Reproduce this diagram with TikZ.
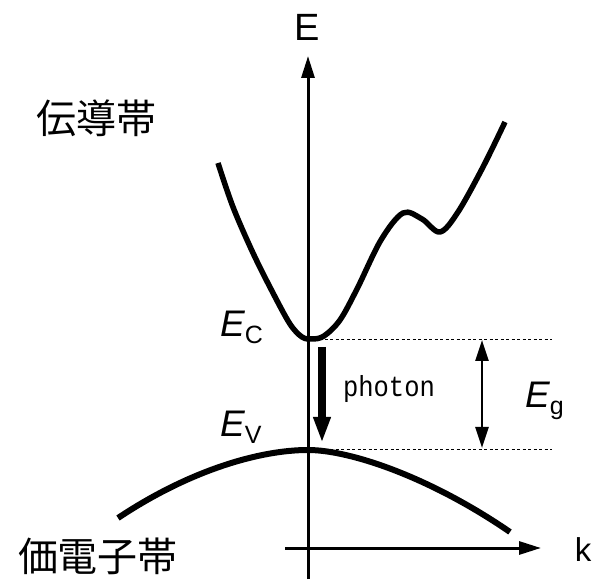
\documentclass[tikz,border=0pt]{standalone}
\usepackage{fontspec}
\setmainfont{Liberation Sans}
\newfontfamily\cjk{Noto Sans CJK JP}
\newfontfamily\photonfont[FakeStretch=0.88]{Liberation Mono}
\usetikzlibrary{arrows.meta}
\tikzset{
  axis/.style={line width=3pt,-{Triangle[length=22pt,width=13pt]}},
  band/.style={line width=5.5pt,line join=round},
  vband/.style={line width=6pt,line join=round},
  level/.style={line width=0.8pt,dash pattern=on 3pt off 2.5pt},
  gap/.style={line width=2.5pt,{Triangle[length=21pt,width=13pt]}-{Triangle[length=21pt,width=13pt]}},
  photonarrow/.style={line width=8pt,-{Triangle[length=26pt,width=16pt]}},
  lbl/.style={inner sep=0pt,font=\fontsize{38}{38}\selectfont},
  cjklbl/.style={inner sep=0pt,font=\cjk\fontsize{40}{40}\selectfont},
  elbl/.style={inner sep=0pt,anchor=base west,font=\fontsize{37}{37}\selectfont\itshape},
}
\newcommand{\subsc}[1]{\raisebox{-7pt}{\upshape\fontsize{25}{25}\selectfont #1}}
\begin{document}
\begin{tikzpicture}[x=1pt,y=-1pt]
\useasboundingbox (0,0) rectangle (598,580);
% axes
\coordinate (vbot) at (308,579);
\coordinate (vtop) at (308,56);
\coordinate (hleft) at (285,548);
\coordinate (hright) at (541,548);
\draw[axis] (vbot) -- (vtop);
\draw[axis] (hleft) -- (hright);
\node[lbl] (E) at (307,27) {E};
\node[lbl,font=\fontsize{33}{33}\selectfont] (k) at (583,550) {k};
% levels
\coordinate (ec) at (308,339);
\coordinate (ecr) at (552,339);
\coordinate (ev) at (308,449);
\coordinate (evr) at (552,449);
\draw[level] (ec) -- (ecr);
\draw[level] (ev) -- (evr);
% conduction band
\draw[band] plot[smooth,tension=0.55] coordinates {(218,163) (233,207) (253,253) (273,293) (290,324) (302,337) (312,339) (324,336) (340,320) (357,289) (381,240) (403,213) (422,219) (440,232) (458,212) (483,167) (505,122)};
% valence band
\draw[vband] (118,518) .. controls (190,470) and (260,450) .. (308,450)
  .. controls (350,450) and (430,477) .. (510,532);
% photon arrow
\coordinate (ph1) at (322,347);
\coordinate (ph2) at (322,443);
\draw[photonarrow] (ph1) -- (ph2);
\node[inner sep=0pt,font=\photonfont\fontsize{29}{29}\selectfont] (photon) at (389,389) {photon};
% gap arrow
\coordinate (g1) at (482,340);
\coordinate (g2) at (482,448);
\draw[gap] (g1) -- (g2);
% labels
\node[elbl] (EC) at (220,337) {E\subsc{C}};
\node[elbl] (EV) at (220,437) {E\subsc{V}};
\node[elbl] (Eg) at (525,408) {E\subsc{g}};
\node[cjklbl] (cb) at (97,118) {伝導帯};
\node[cjklbl] (vb) at (98,556) {価電子帯};
\end{tikzpicture}
\end{document}
